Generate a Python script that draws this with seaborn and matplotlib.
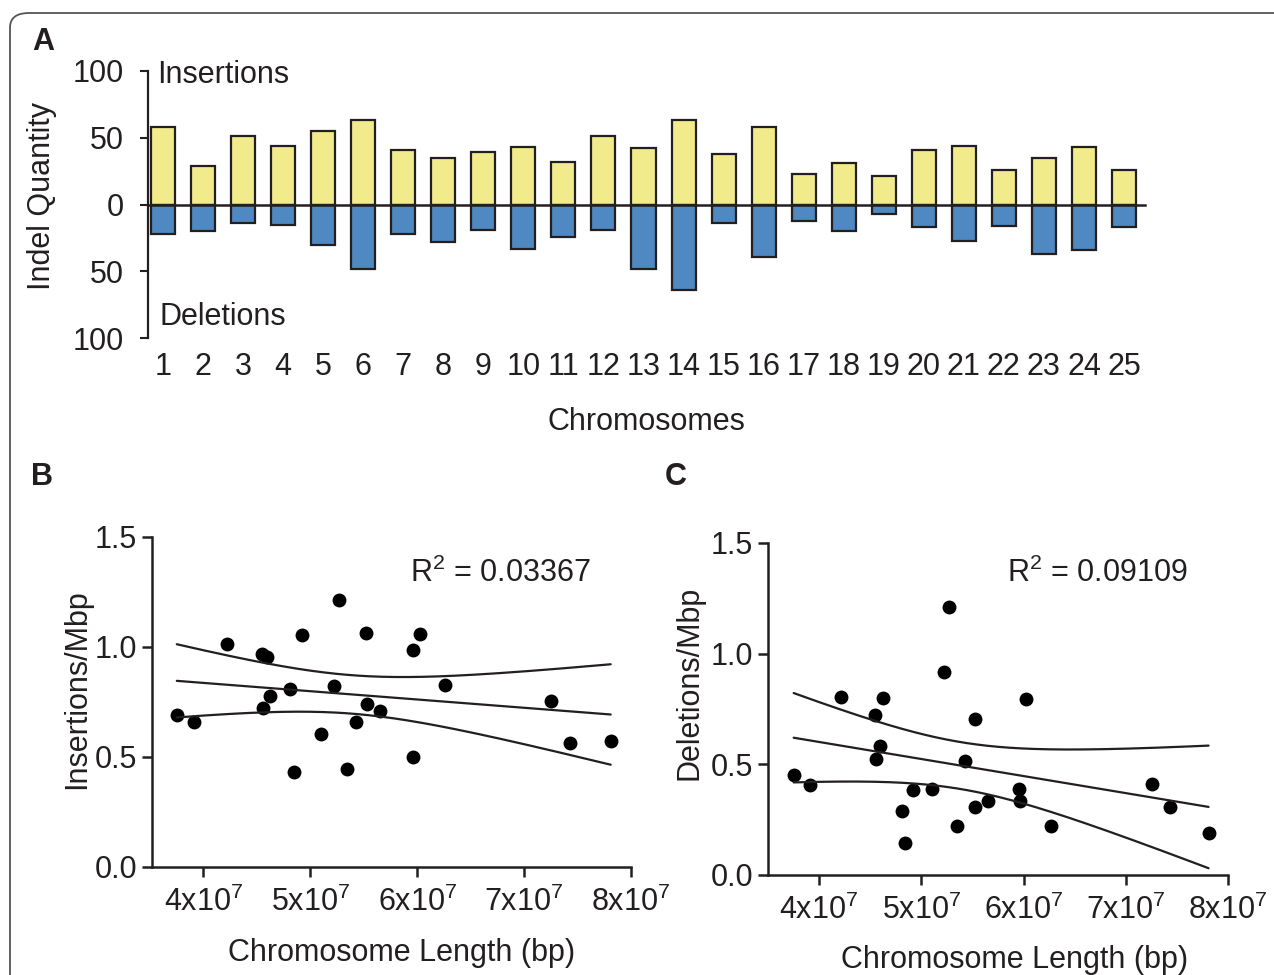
import numpy as np
import matplotlib
matplotlib.use('Agg')
import matplotlib.pyplot as plt
import seaborn as sns
from matplotlib.patches import FancyBboxPatch

# --- data ---
chromosomes = [str(i) for i in range(1, 26)]
insertions = [58, 29, 51, 44, 55, 63, 41, 35, 39, 43, 32, 51, 42,
              63, 38, 58, 23, 31, 21, 41, 44, 26, 35, 43, 26]
deletions = [22, 20, 14, 15, 30, 48, 22, 28, 19, 33, 24, 19, 48,
             64, 14, 39, 12, 20, 7, 17, 27, 16, 37, 34, 17]

# chromosome lengths (bp) and per-Mbp rates for panels B and C
chrom_length = [3.752e7, 3.914e7, 4.219e7, 4.545e7, 4.554e7, 4.595e7, 4.624e7,
                4.809e7, 4.844e7, 4.919e7, 5.102e7, 5.220e7, 5.268e7, 5.347e7,
                5.432e7, 5.524e7, 5.528e7, 5.648e7, 5.959e7, 5.965e7, 6.027e7,
                6.265e7, 7.254e7, 7.432e7, 7.810e7]
ins_per_mbp = [0.693, 0.661, 1.015, 0.967, 0.725, 0.955, 0.777, 0.809, 0.432,
               1.053, 0.606, 0.823, 1.212, 0.447, 0.661, 1.064, 0.741, 0.708,
               0.987, 0.502, 1.058, 0.827, 0.756, 0.565, 0.574]
del_per_mbp = [0.450, 0.406, 0.805, 0.725, 0.525, 0.585, 0.799, 0.289, 0.143,
               0.385, 0.390, 0.918, 1.213, 0.223, 0.515, 0.307, 0.704, 0.334,
               0.388, 0.334, 0.795, 0.223, 0.412, 0.307, 0.191]

x_ticks = [4e7, 5e7, 6e7, 7e7, 8e7]
x_ticklabels = ['4x10$^7$', '5x10$^7$', '6x10$^7$', '7x10$^7$', '8x10$^7$']

ink = '#231f20'
yellow = '#f1eb8c'
blue = '#5088c2'
fs = 22

sns.set_style('ticks')
plt.rcParams['font.family'] = ['Liberation Sans', 'DejaVu Sans']
plt.rcParams['mathtext.default'] = 'regular'
plt.rcParams['text.color'] = ink
plt.rcParams['axes.labelcolor'] = ink
plt.rcParams['xtick.color'] = ink
plt.rcParams['ytick.color'] = ink
plt.rcParams['axes.edgecolor'] = ink

W, H = 1274, 975
fig = plt.figure(figsize=(W / 100, H / 100), dpi=100)

# frame around the whole figure
frame = FancyBboxPatch((10 / W, -0.1), 1.2, 1.1 - 13 / H,
                       boxstyle='round,pad=0,rounding_size=0.015',
                       transform=fig.transFigure, fill=False,
                       edgecolor='#555555', linewidth=1.3, clip_on=False)
fig.patches.append(frame)

# ---------------- panel A ----------------
ax_a = fig.add_axes([148 / W, 1 - 338 / H, 997 / W, 267 / H])
sns.barplot(x=chromosomes, y=insertions, color=yellow, saturation=1,
            edgecolor=ink, linewidth=1.6, width=0.6, ax=ax_a)
sns.barplot(x=chromosomes, y=np.negative(deletions), color=blue, saturation=1,
            edgecolor=ink, linewidth=1.6, width=0.6, ax=ax_a)
ax_a.set_xlim(-0.375, 24.525)
ax_a.set_ylim(-100, 100)
ax_a.spines[['top', 'right']].set_visible(False)
ax_a.spines['bottom'].set_position(('data', 0))
ax_a.spines['bottom'].set_linewidth(1.8)
ax_a.spines['left'].set_linewidth(1.6)
ax_a.tick_params(axis='x', direction='out', length=3.5, width=1.5, labelbottom=False)
ax_a.set_yticks([-100, -50, 0, 50, 100], labels=['100', '50', '0', '50', '100'])
ax_a.tick_params(axis='y', length=5.8, width=1.5, pad=11.5, labelsize=fs)
ax_a.set_xlabel('')
ax_a.set_ylabel('Indel Quantity', fontsize=fs)
ax_a.yaxis.set_label_coords(-0.091, 0.53)
ax_a.text(-0.15, 97, 'Insertions', fontsize=fs, va='center', ha='left')
ax_a.text(-0.08, -84, 'Deletions', fontsize=fs, va='center', ha='left')

sec = ax_a.secondary_xaxis('bottom')
sec.set_xticks(range(len(chromosomes)), labels=chromosomes)
sec.spines['bottom'].set_visible(False)
sec.tick_params(length=0, pad=10, labelsize=fs)
sec.set_xlabel('Chromosomes', fontsize=fs, labelpad=18)


# ---------------- panels B and C ----------------
def rate_panel(ax, rates, ylabel, r2_text, ylab_xy, xlab_xy, r2_xy):
    x = np.asarray(chrom_length)
    y = np.asarray(rates)
    sns.regplot(x=x, y=y, ax=ax, ci=None, color='black', truncate=True,
                scatter_kws=dict(s=100, linewidths=0, alpha=1),
                line_kws=dict(lw=1.6, color=ink))
    # 95% confidence band of the fit drawn as lines
    n = len(x)
    slope, icpt = np.polyfit(x, y, 1)
    s = np.sqrt(np.sum((y - (slope * x + icpt)) ** 2) / (n - 2))
    grid = np.linspace(x.min(), x.max(), 200)
    half = 2.069 * s * np.sqrt(1 / n + (grid - x.mean()) ** 2 / np.sum((x - x.mean()) ** 2))
    fit = slope * grid + icpt
    ax.plot(grid, fit + half, color=ink, lw=1.6)
    ax.plot(grid, fit - half, color=ink, lw=1.6)

    ax.set_xlim(None, 8e7)
    ax.set_ylim(0, 1.5)
    ax.set_xticks(x_ticks, labels=x_ticklabels)
    ax.set_yticks([0, 0.5, 1.0, 1.5], labels=['0.0', '0.5', '1.0', '1.5'])
    ax.tick_params(length=7.2, width=1.8, labelsize=fs, pad=3.6)
    ax.tick_params(axis='x', pad=7)
    sns.despine(ax=ax)
    for sp in ('left', 'bottom'):
        ax.spines[sp].set_linewidth(1.8)
    ax.set_ylabel(ylabel, fontsize=fs)
    ax.yaxis.set_label_coords(*ylab_xy)
    ax.set_xlabel('Chromosome Length (bp)', fontsize=fs)
    ax.xaxis.set_label_coords(*xlab_xy)
    ax.text(r2_xy[0], r2_xy[1], r2_text, transform=ax.transAxes,
            fontsize=fs, ha='left', va='center')


ax_b = fig.add_axes([152 / W, 1 - 867 / H, 479 / W, 330 / H])
rate_panel(ax_b, ins_per_mbp, 'Insertions/Mbp', 'R$^2$ = 0.03367',
           (-0.125, 0.54), (0.522, -0.215), (0.539, 0.891))
ax_b.set_xlim(3.52e7, 8e7)

ax_c = fig.add_axes([768 / W, 1 - 875 / H, 460 / W, 332 / H])
rate_panel(ax_c, del_per_mbp, 'Deletions/Mbp', 'R$^2$ = 0.09109',
           (-0.139, 0.58), (0.537, -0.21), (0.52, 0.91))
ax_c.set_xlim(3.501e7, 8e7)

# panel letters
for letter, px, py in [('A', 43, 42), ('B', 42, 477), ('C', 676, 477)]:
    fig.text(px / W, 1 - py / H, letter, fontsize=fs, fontweight='bold',
             ha='center', va='center')

fig.savefig('out.png', dpi=100)
